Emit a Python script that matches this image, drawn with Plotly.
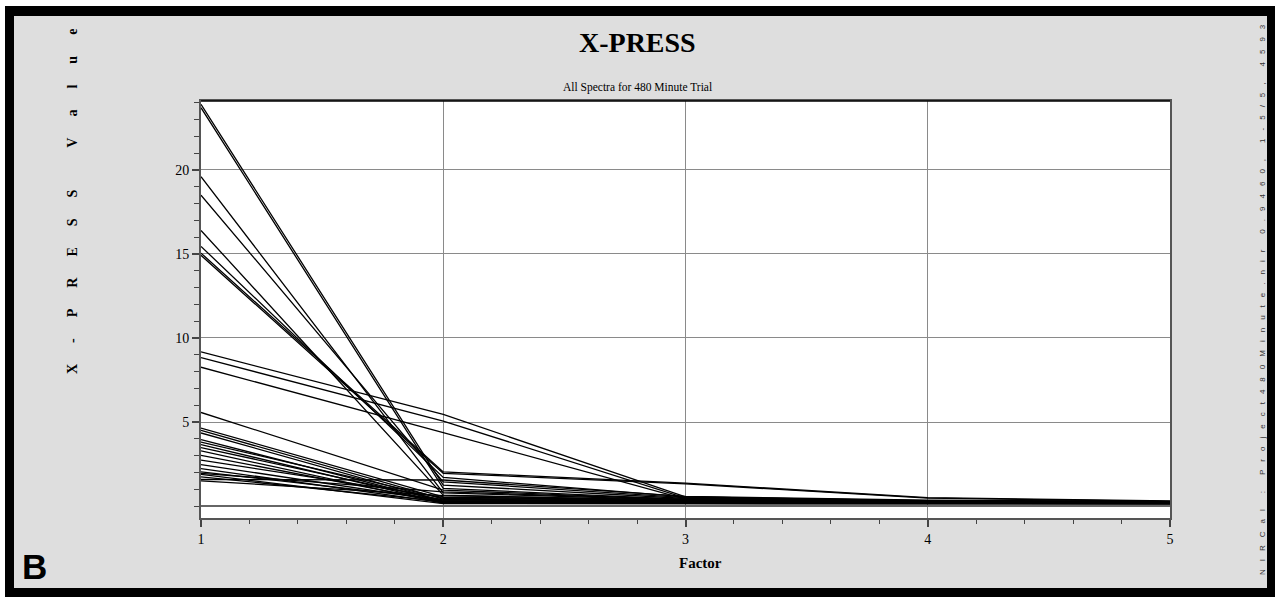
import plotly.graph_objects as go

# ---------------- data ----------------
factors = [1, 2, 3, 4, 5]
# X-PRESS value of each spectrum at factor 1..5
press_f1 = [23.9, 23.7, 19.6, 18.5, 16.4, 15.45, 15.05, 14.92, 9.17, 8.83, 8.26, 5.57,
            4.64, 4.50, 4.35, 3.95, 3.81, 3.66, 3.48, 3.28, 3.02, 2.73, 2.47, 2.23,
            2.03, 1.88, 1.74, 1.58, 1.50, 1.95]
press_f2 = [1.25, 1.05, 0.79, 1.44, 0.65, 1.70, 2.03, 1.95, 5.45, 5.06, 4.37, 0.95,
            0.55, 0.42, 0.30, 0.26, 0.46, 0.20, 0.36, 0.16, 0.25, 0.52, 0.30, 0.21,
            0.40, 0.15, 0.27, 1.55, 0.62, 0.85]
press_f3 = [0.45, 0.40, 0.35, 0.50, 0.30, 0.55, 1.36, 1.32, 0.55, 0.48, 0.42, 0.38,
            0.30, 0.28, 0.25, 0.22, 0.32, 0.18, 0.27, 0.15, 0.20, 0.35, 0.24, 0.19,
            0.30, 0.14, 0.22, 0.58, 0.36, 0.40]
press_f4 = [0.25, 0.22, 0.20, 0.28, 0.18, 0.30, 0.50, 0.47, 0.32, 0.28, 0.26, 0.22,
            0.24, 0.20, 0.22, 0.18, 0.25, 0.16, 0.21, 0.14, 0.18, 0.26, 0.20, 0.17,
            0.23, 0.13, 0.19, 0.35, 0.27, 0.30]
press_f5 = [0.22, 0.20, 0.18, 0.24, 0.16, 0.26, 0.30, 0.28, 0.27, 0.24, 0.22, 0.20,
            0.21, 0.19, 0.20, 0.17, 0.23, 0.15, 0.19, 0.13, 0.17, 0.24, 0.19, 0.16,
            0.21, 0.12, 0.18, 0.27, 0.25, 0.26]

y_tickvals = [5, 10, 15, 20]
x_tickvals = [1, 2, 3, 4, 5]

title_text = "X-PRESS"
subtitle_text = "All Spectra for 480 Minute Trial"
x_title = "Factor"
y_title = "X-PRESS Value"
side_text = "NIRCal : Project480Minute.nir 0.9460, 1-5/5, 4593"
panel_label = "B"

# ---------------- layout geometry (pixels) ----------------
W, H = 1275, 598
L, R, T, B = 201, 1170, 101, 518


def px_x(p):
    return (p - L) / (R - L)


def px_y(p):
    return (B - p) / (B - T)


SERIF = "Liberation Serif, Times New Roman, serif"
SANS = "Liberation Sans, Arial, sans-serif"

fig = go.Figure()
for vals in zip(press_f1, press_f2, press_f3, press_f4, press_f5):
    fig.add_trace(go.Scatter(x=factors, y=list(vals), mode="lines",
                             line=dict(color="black", width=1.3),
                             hoverinfo="skip", showlegend=False))

shapes = [
    # black frame
    dict(type="rect", xref="paper", yref="paper", layer="below",
         x0=px_x(5), x1=px_x(1276), y0=px_y(597), y1=px_y(6),
         fillcolor="black", line=dict(width=0)),
    # grey panel
    dict(type="rect", xref="paper", yref="paper", layer="below",
         x0=px_x(14), x1=px_x(1267), y0=px_y(588), y1=px_y(16),
         fillcolor="#dedede", line=dict(width=0)),
    # white plot area
    dict(type="rect", xref="paper", yref="paper", layer="below",
         x0=0, x1=1, y0=0, y1=1, fillcolor="white", line=dict(width=0)),
    # top border of plot
    dict(type="line", xref="paper", yref="paper", layer="above",
         x0=0, x1=1, y0=1, y1=1, line=dict(color="black", width=1.5)),
]


def spaced(text, gap):
    out = []
    for word in text.split(" "):
        out.append(gap.join(word))
    return (gap + gap).join(out)


annotations = [
    dict(text="<b>%s</b>" % title_text, x=px_x(637), y=px_y(42), xref="paper", yref="paper",
         showarrow=False, xanchor="center", yanchor="middle",
         font=dict(family=SERIF, size=28, color="black")),
    dict(text=subtitle_text, x=px_x(637), y=px_y(88), xref="paper", yref="paper",
         showarrow=False, xanchor="center", yanchor="middle",
         font=dict(family=SERIF, size=11.5, color="black")),
    dict(text="<b>%s</b>" % x_title, x=px_x(700), y=px_y(563), xref="paper", yref="paper",
         showarrow=False, xanchor="center", yanchor="middle",
         font=dict(family=SERIF, size=15, color="black")),
    dict(text="<b>%s</b>" % spaced(y_title, "\u2003\u2004\u2006"), x=px_x(72), y=px_y(202),
         xref="paper", yref="paper", textangle=-90,
         showarrow=False, xanchor="center", yanchor="middle",
         font=dict(family=SERIF, size=14, color="black")),
    dict(text=spaced(side_text, "\u2003"), x=px_x(1262), y=px_y(300),
         xref="paper", yref="paper", textangle=-90,
         showarrow=False, xanchor="center", yanchor="middle",
         font=dict(family=SANS, size=8, color="#333333")),
    dict(text="<b>%s</b>" % panel_label, x=px_x(20), y=px_y(588), xref="paper", yref="paper",
         showarrow=False, xanchor="left", yanchor="bottom",
         font=dict(family=SANS, size=35, color="black")),
]

fig.update_layout(
    width=W, height=H, autosize=False,
    margin=dict(l=L, r=W - R, t=T, b=H - B, pad=0, autoexpand=False),
    paper_bgcolor="white", plot_bgcolor="white",
    showlegend=False,
    shapes=shapes, annotations=annotations,
    xaxis=dict(range=[1, 5], tickvals=x_tickvals, ticktext=[str(v) for v in x_tickvals],
               ticks="outside", ticklen=7, tickwidth=1.5, tickcolor="#444",
               minor=dict(dtick=0.2, tick0=1, ticks="outside", ticklen=4, tickcolor="#444",
                          tickwidth=1, showgrid=False),
               showgrid=True, gridcolor="#8a8a8a", gridwidth=1,
               zeroline=False, showline=True, linecolor="#555", linewidth=2, mirror=True,
               tickfont=dict(family=SERIF, size=14, color="black")),
    yaxis=dict(range=[-0.71, 24.1], tickvals=y_tickvals, ticktext=[str(v) for v in y_tickvals],
               ticks="outside", ticklen=7, tickwidth=1.5, tickcolor="#444",
               minor=dict(dtick=1, tick0=0, ticks="outside", ticklen=5, tickcolor="#444",
                          tickwidth=1, showgrid=False),
               showgrid=True, gridcolor="#8a8a8a", gridwidth=1,
               zeroline=True, zerolinecolor="#666", zerolinewidth=1.5,
               showline=True, linecolor="#555", linewidth=2, mirror=True,
               tickfont=dict(family=SERIF, size=14, color="black")),
)

fig.write_html("out.html")
